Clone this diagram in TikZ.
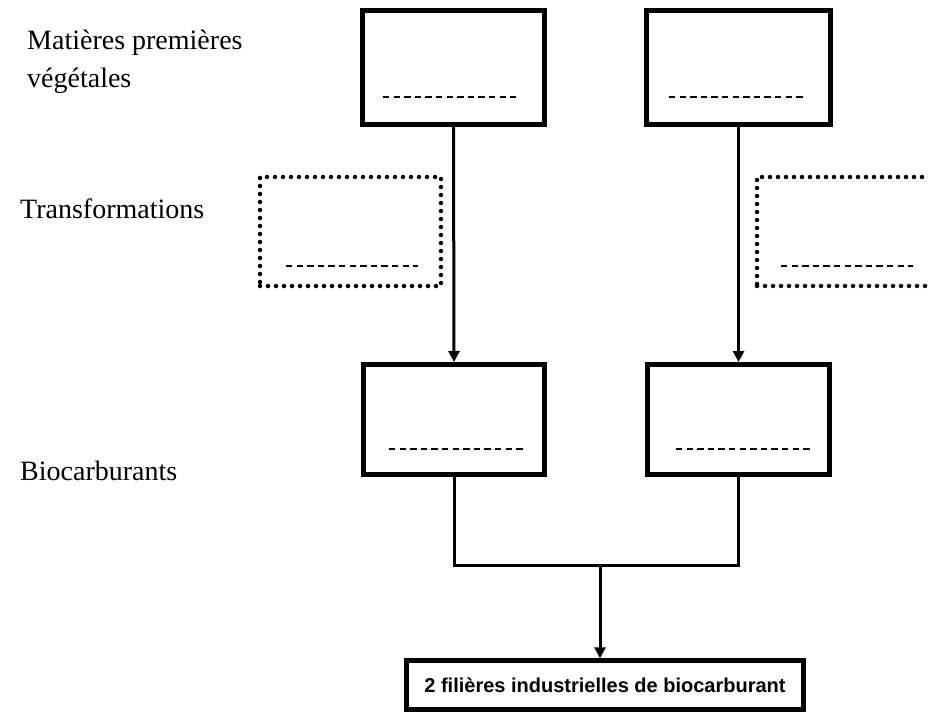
\documentclass[tikz,border=0pt]{standalone}
\usepackage{fontspec}
\setmainfont{Liberation Serif}
\newfontfamily\boldsans{Liberation Sans}
\usetikzlibrary{arrows.meta,calc}
\begin{document}
\begin{tikzpicture}[x=1pt,y=-1pt,
  solidbox/.style={draw=black,line width=5pt,minimum width=#1,inner sep=0pt},
  dotbox/.style={draw=black,line width=4.5pt,line cap=round,dash pattern=on 0pt off 8pt,inner sep=0pt},
  blank/.style={line width=2.2pt,dash pattern=on 6.4pt off 4.2pt},
  conn/.style={line width=3pt},
  arr/.style={conn,-{Triangle[length=11pt,width=11pt]}},
  lbl/.style={anchor=base west,font=\fontsize{28}{34}\selectfont,inner sep=0pt,align=left}
]
\useasboundingbox (0,0) rectangle (928,714);
\clip (0,0) rectangle (928,714);
\fill[white] (0,0) rectangle (928,714);

% labels
\node[lbl] (l1) at (27,50) {Matières premières};
\node[lbl] (l1b) at (27,88) {végétales};
\node[lbl] (l2) at (20,218) {Transformations};
\node[lbl] (l3) at (20,480) {Biocarburants};

% top boxes
\node[solidbox=182pt,minimum height=114pt] (tl) at (453.5,67.5) {};
\node[solidbox=184pt,minimum height=114pt] (tr) at (738.5,67.5) {};
% dotted boxes
\node[dotbox,minimum width=181pt,minimum height=109pt] (dl) at (350.5,231.5) {};
\node[dotbox,minimum width=200pt,minimum height=109pt] (dr) at (857,231.5) {};
% lower boxes
\node[solidbox=181pt,minimum height=110pt] (bl) at (454,419.5) {};
\node[solidbox=182pt,minimum height=110pt] (br) at (738.5,419.5) {};
% bottom box
\node[solidbox=397pt,minimum height=49pt,line width=4.5pt,font=\boldsans\bfseries\fontsize{20}{24}\selectfont] (fin) at (605,685) {2 filières industrielles de biocarburant};

% blanks
\draw[blank] (383,97) -- (516,97);
\draw[blank] (669,97) -- (803,97);
\draw[blank] (286,266) -- (418,266);
\draw[blank] (781,266) -- (913,266);
\draw[blank] (389,449) -- (523,449);
\draw[blank] (676,449) -- (810,449);

% connectors
\coordinate (m) at (600,565);
\draw[arr] (tl.south) -- (bl.north);
\draw[arr] (tr.south) -- (br.north);
\draw[conn] (bl.south) |- (m) -| (br.south);
\draw[arr] (m) -- (m |- fin.north);
\end{tikzpicture}
\end{document}
